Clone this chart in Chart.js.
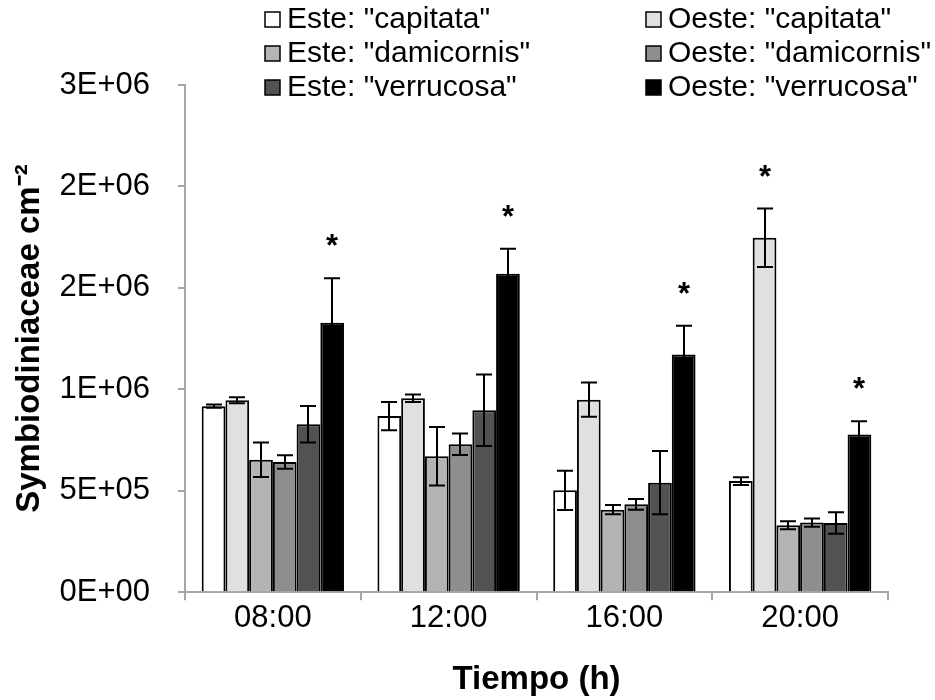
<!DOCTYPE html>
<html>
<head>
<meta charset="utf-8">
<script src="https://cdn.jsdelivr.net/npm/chart.js@4"></script>
<style>
  html, body { margin: 0; padding: 0; background: #fff; }
</style>
</head>
<body>
<canvas id="myChart" width="935" height="700"></canvas>
<script>
const labels = ['08:00', '12:00', '16:00', '20:00'];

const esteCapitata = [917000, 868000, 502000, 548000];
const esteCapitataErr = [8000, 70000, 97000, 19000];
const oesteCapitata = [946000, 956000, 949000, 1747000];
const oesteCapitataErr = [15000, 18000, 84000, 144000];
const esteDamicornis = [653000, 670000, 407000, 330000];
const esteDamicornisErr = [85000, 144000, 23000, 20000];
const oesteDamicornis = [642000, 729000, 433000, 343000];
const oesteDamicornisErr = [33000, 53000, 26000, 20000];
const esteVerrucosa = [828000, 897000, 540000, 341000];
const esteVerrucosaErr = [90000, 176000, 156000, 53000];
const oesteVerrucosa = [1328000, 1570000, 1172000, 777000];
const oesteVerrucosaErr = [220000, 123000, 141000, 66000];

// significance marks (*)
const oesteCapitataStars = [false, false, false, true];
const oesteVerrucosaStars = [true, true, true, true];
const noStars = [false, false, false, false];

const yTicks = [0, 500000, 1000000, 1500000, 2000000, 2500000];

const FONT = "'Liberation Sans', Arial, sans-serif";
const AXIS_GREY = '#a6a6a6';

// Excel style "0E+00"
function sci(value) {
  if (value === 0) return '0E+00';
  let exp = Math.floor(Math.log10(Math.abs(value)));
  let mant = Math.round(value / Math.pow(10, exp));
  if (mant >= 10) { mant = mant / 10; exp += 1; }
  const sign = exp < 0 ? '-' : '+';
  return mant + 'E' + sign + String(Math.abs(exp)).padStart(2, '0');
}

function makeSet(label, values, errors, stars, color) {
  return {
    label,
    data: values,
    errors,
    stars,
    backgroundColor: color,
    borderColor: '#000',
    borderWidth: 2,
    borderSkipped: 'bottom',
    categoryPercentage: 0.81,
    barPercentage: 1.0,
  };
}

const data = {
  labels,
  datasets: [
    makeSet('Este: "capitata"', esteCapitata, esteCapitataErr, noStars, '#ffffff'),
    makeSet('Oeste: "capitata"', oesteCapitata, oesteCapitataErr, oesteCapitataStars, '#e0e0e0'),
    makeSet('Este: "damicornis"', esteDamicornis, esteDamicornisErr, noStars, '#b4b4b4'),
    makeSet('Oeste: "damicornis"', oesteDamicornis, oesteDamicornisErr, noStars, '#8e8e8e'),
    makeSet('Este: "verrucosa"', esteVerrucosa, esteVerrucosaErr, noStars, '#525252'),
    makeSet('Oeste: "verrucosa"', oesteVerrucosa, oesteVerrucosaErr, oesteVerrucosaStars, '#000000'),
  ]
};

// error bars + asterisks
const errorBars = {
  id: 'errorBars',
  afterDatasetsDraw(chart) {
    const ctx = chart.ctx;
    const y = chart.scales.y;
    ctx.save();
    ctx.strokeStyle = '#000';
    ctx.lineWidth = 2;
    chart.data.datasets.forEach((ds, i) => {
      const meta = chart.getDatasetMeta(i);
      meta.data.forEach((bar, j) => {
        const v = ds.data[j];
        const e = ds.errors[j];
        const top = y.getPixelForValue(v + e);
        const bot = y.getPixelForValue(v - e);
        const x = Math.round(bar.x);
        const cap = 8;
        ctx.beginPath();
        ctx.moveTo(x, top); ctx.lineTo(x, bot);
        ctx.moveTo(x - cap, top); ctx.lineTo(x + cap, top);
        ctx.moveTo(x - cap, bot); ctx.lineTo(x + cap, bot);
        ctx.stroke();
        if (ds.stars[j]) {
          ctx.fillStyle = '#000';
          ctx.font = 'bold 31px ' + FONT;
          ctx.textAlign = 'center';
          ctx.textBaseline = 'alphabetic';
          ctx.fillText('*', x, top - 22);
        }
      });
    });
    ctx.restore();
  }
};

// two-column legend at the top
const gridLegend = {
  id: 'gridLegend',
  afterDraw(chart) {
    const ctx = chart.ctx;
    const colX = [265, 646];
    const rowY = [19, 53, 87];
    ctx.save();
    ctx.font = '30px ' + FONT;
    ctx.textBaseline = 'middle';
    ctx.textAlign = 'left';
    chart.data.datasets.forEach((ds, i) => {
      const cx = colX[i % 2];
      const cy = rowY[Math.floor(i / 2)];
      ctx.fillStyle = ds.backgroundColor;
      ctx.fillRect(cx, cy - 7, 15, 15);
      ctx.strokeStyle = '#000';
      ctx.lineWidth = 1.5;
      ctx.strokeRect(cx, cy - 7, 15, 15);
      ctx.fillStyle = '#000';
      ctx.fillText(ds.label, cx + 22, cy + 1);
    });
    ctx.restore();
  }
};

const config = {
  type: 'bar',
  data: data,
  options: {
    responsive: false,
    animation: false,
    devicePixelRatio: 1,
    layout: { padding: { top: 85, right: 47, left: 8, bottom: 0 } },
    plugins: {
      legend: { display: false },
      tooltip: { enabled: false },
    },
    scales: {
      x: {
        grid: { display: true, drawOnChartArea: false, offset: true, color: AXIS_GREY, lineWidth: 2, tickLength: 8 },
        border: { color: AXIS_GREY, width: 2 },
        ticks: { color: '#000', font: { family: FONT, size: 31 }, padding: 0 },
        title: { display: true, text: 'Tiempo (h)', color: '#000', font: { family: FONT, size: 33, weight: 'bold' }, padding: { top: 23, bottom: 0 } },
      },
      y: {
        min: 0,
        max: 2500000,
        afterBuildTicks: (axis) => { axis.ticks = yTicks.map(v => ({ value: v })); },
        afterFit: (axis) => { axis.width = 177; },
        grid: { display: true, drawOnChartArea: false, color: AXIS_GREY, lineWidth: 2, tickLength: 7 },
        border: { color: AXIS_GREY, width: 2 },
        ticks: { color: '#000', font: { family: FONT, size: 31 }, padding: 28, callback: (v) => sci(v) },
        title: { display: true, text: 'Symbiodiniaceae cm\u207B\u00B2', color: '#000', font: { family: FONT, size: 33, weight: 'bold' }, padding: { top: 2, bottom: 12 } },
      }
    }
  },
  plugins: [errorBars, gridLegend]
};

const myChart = new Chart(document.getElementById('myChart').getContext('2d'), config);
</script>
</body>
</html>
